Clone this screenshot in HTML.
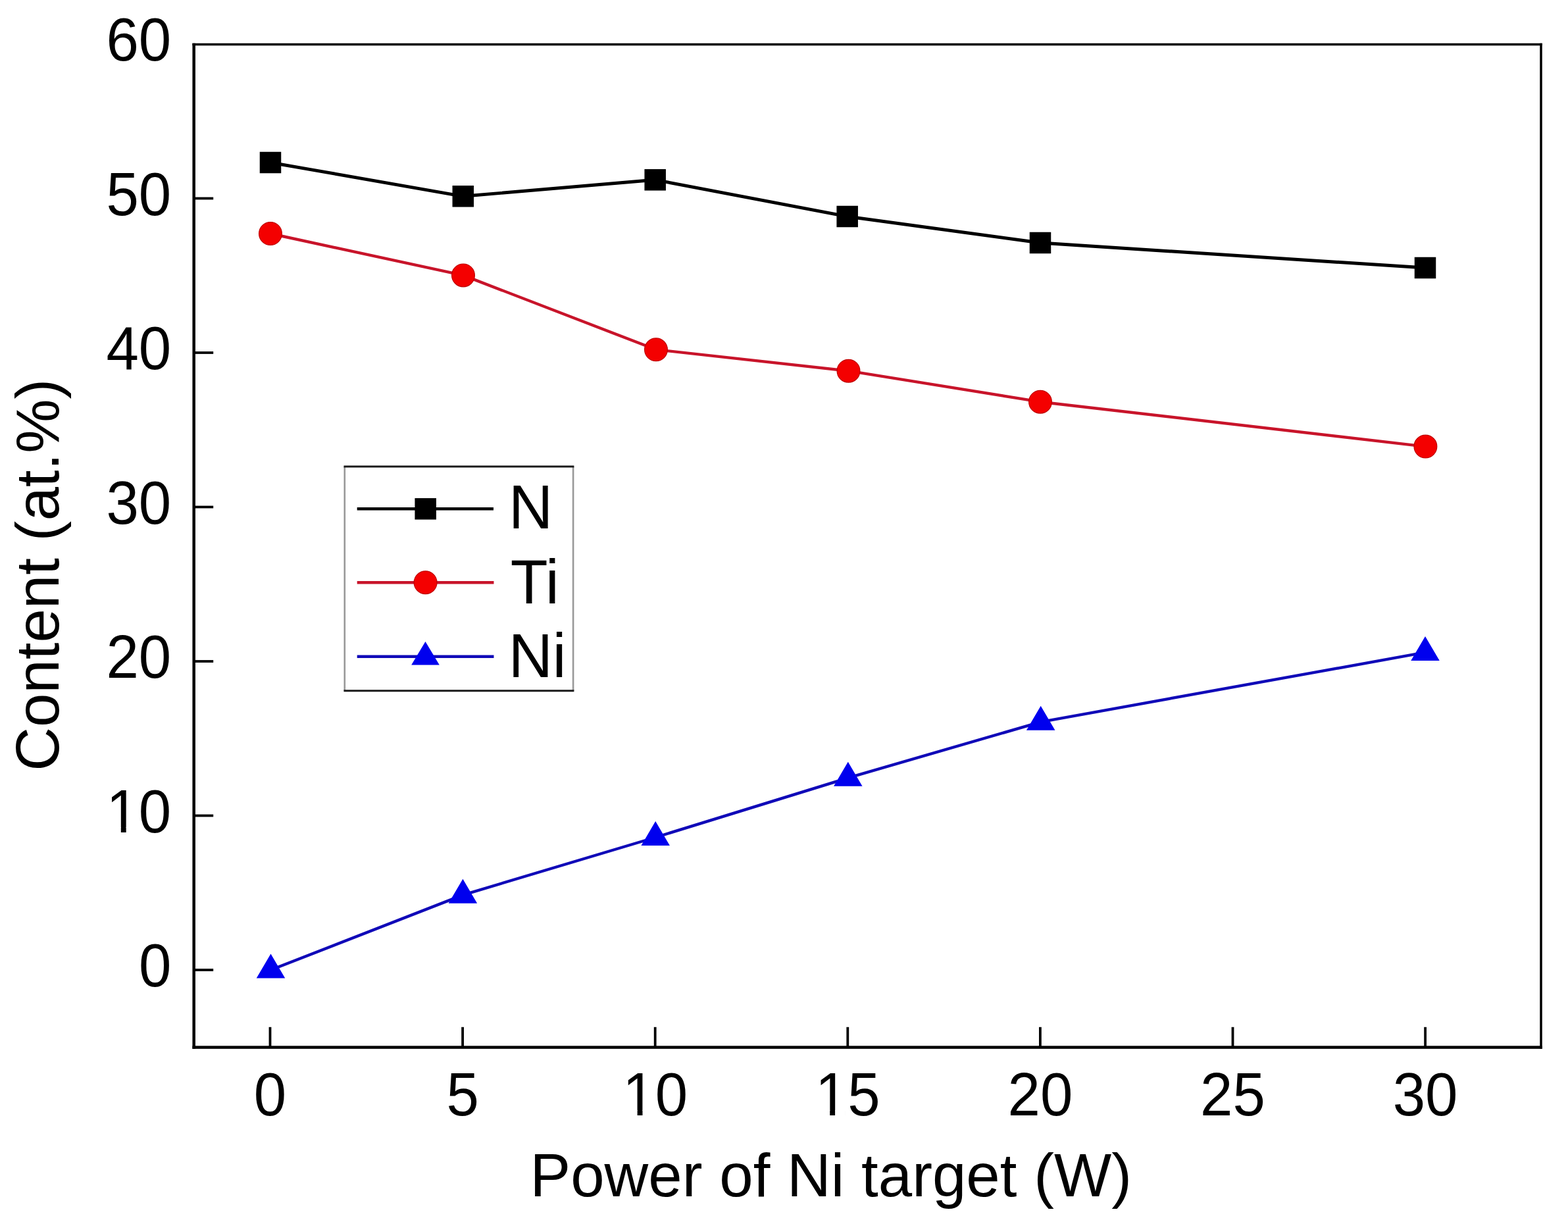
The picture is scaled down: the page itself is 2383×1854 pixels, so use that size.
<!DOCTYPE html>
<html><head><meta charset="utf-8"><title>Content vs Power of Ni target</title>
<style>html,body{margin:0;padding:0;background:#fff;overflow:hidden;}svg{display:block;}</style></head>
<body><svg width="2383" height="1854" viewBox="0 0 2383 1854">
<rect width="2383" height="1854" fill="#fff"/>
<rect x="292.45" y="65.75" width="4.5" height="1528.10" fill="#000"/>
<rect x="292.45" y="1589.35" width="2051.30" height="4.5" fill="#000"/>
<rect x="292.45" y="65.75" width="2051.30" height="3.5" fill="#000"/>
<rect x="2340.25" y="65.75" width="3.5" height="1528.10" fill="#000"/>
<line x1="294.7" y1="1474.00" x2="324.2" y2="1474.00" stroke="#000" stroke-width="3.8"/>
<line x1="294.7" y1="1239.50" x2="324.2" y2="1239.50" stroke="#000" stroke-width="3.8"/>
<line x1="294.7" y1="1005.00" x2="324.2" y2="1005.00" stroke="#000" stroke-width="3.8"/>
<line x1="294.7" y1="770.50" x2="324.2" y2="770.50" stroke="#000" stroke-width="3.8"/>
<line x1="294.7" y1="536.00" x2="324.2" y2="536.00" stroke="#000" stroke-width="3.8"/>
<line x1="294.7" y1="301.50" x2="324.2" y2="301.50" stroke="#000" stroke-width="3.8"/>
<line x1="410.50" y1="1560.8" x2="410.50" y2="1591.6" stroke="#000" stroke-width="3.8"/>
<line x1="703.10" y1="1560.8" x2="703.10" y2="1591.6" stroke="#000" stroke-width="3.8"/>
<line x1="995.70" y1="1560.8" x2="995.70" y2="1591.6" stroke="#000" stroke-width="3.8"/>
<line x1="1288.30" y1="1560.8" x2="1288.30" y2="1591.6" stroke="#000" stroke-width="3.8"/>
<line x1="1580.90" y1="1560.8" x2="1580.90" y2="1591.6" stroke="#000" stroke-width="3.8"/>
<line x1="1873.50" y1="1560.8" x2="1873.50" y2="1591.6" stroke="#000" stroke-width="3.8"/>
<line x1="2166.10" y1="1560.8" x2="2166.10" y2="1591.6" stroke="#000" stroke-width="3.8"/>
<text transform="translate(260.26,1499.00) scale(0.96,1)" text-anchor="end" font-family="'Liberation Sans', Arial, sans-serif" font-size="92.5">0</text>
<text transform="translate(260.26,1264.50) scale(0.96,1)" text-anchor="end" font-family="'Liberation Sans', Arial, sans-serif" font-size="92.5">10</text>
<text transform="translate(260.26,1030.00) scale(0.96,1)" text-anchor="end" font-family="'Liberation Sans', Arial, sans-serif" font-size="92.5">20</text>
<text transform="translate(260.26,795.50) scale(0.96,1)" text-anchor="end" font-family="'Liberation Sans', Arial, sans-serif" font-size="92.5">30</text>
<text transform="translate(260.26,561.00) scale(0.96,1)" text-anchor="end" font-family="'Liberation Sans', Arial, sans-serif" font-size="92.5">40</text>
<text transform="translate(260.26,326.50) scale(0.96,1)" text-anchor="end" font-family="'Liberation Sans', Arial, sans-serif" font-size="92.5">50</text>
<text transform="translate(260.26,92.00) scale(0.96,1)" text-anchor="end" font-family="'Liberation Sans', Arial, sans-serif" font-size="92.5">60</text>
<text transform="translate(410.50,1694.50) scale(0.96,1)" text-anchor="middle" font-family="'Liberation Sans', Arial, sans-serif" font-size="92.5">0</text>
<text transform="translate(703.10,1694.50) scale(0.96,1)" text-anchor="middle" font-family="'Liberation Sans', Arial, sans-serif" font-size="92.5">5</text>
<text transform="translate(995.70,1694.50) scale(0.96,1)" text-anchor="middle" font-family="'Liberation Sans', Arial, sans-serif" font-size="92.5">10</text>
<text transform="translate(1288.30,1694.50) scale(0.96,1)" text-anchor="middle" font-family="'Liberation Sans', Arial, sans-serif" font-size="92.5">15</text>
<text transform="translate(1580.90,1694.50) scale(0.96,1)" text-anchor="middle" font-family="'Liberation Sans', Arial, sans-serif" font-size="92.5">20</text>
<text transform="translate(1873.50,1694.50) scale(0.96,1)" text-anchor="middle" font-family="'Liberation Sans', Arial, sans-serif" font-size="92.5">25</text>
<text transform="translate(2166.10,1694.50) scale(0.96,1)" text-anchor="middle" font-family="'Liberation Sans', Arial, sans-serif" font-size="92.5">30</text>
<rect x="167.56" y="1256.99" width="16.26" height="8.71" fill="#fff"/><rect x="191.67" y="1256.99" width="15.57" height="8.71" fill="#fff"/>
<rect x="952.38" y="1686.99" width="16.26" height="8.71" fill="#fff"/><rect x="976.49" y="1686.99" width="15.57" height="8.71" fill="#fff"/>
<rect x="1244.98" y="1686.99" width="16.26" height="8.71" fill="#fff"/><rect x="1269.09" y="1686.99" width="15.57" height="8.71" fill="#fff"/>
<text transform="translate(805.50,1817.70) scale(0.991,1)" font-family="'Liberation Sans', Arial, sans-serif" font-size="93.3">Power of Ni target (W)</text>
<text transform="translate(89.2,1171.82) rotate(-90) scale(0.992,1)" font-family="'Liberation Sans', Arial, sans-serif" font-size="93.2">Content (at.%)</text>
<polyline points="411.00,247.00 703.80,298.30 995.70,273.30 1287.70,329.00 1581.00,369.00 2166.00,407.00" fill="none" stroke="#000" stroke-width="4.9" stroke-linejoin="round"/>
<polyline points="411.00,355.00 704.00,418.40 997.00,531.30 1289.50,563.70 1581.00,610.70 2166.40,678.60" fill="none" stroke="#c8142a" stroke-width="4.4" stroke-linejoin="round"/>
<polyline points="411.50,1474.00 703.40,1360.10 996.20,1272.50 1288.80,1182.20 1581.70,1097.10 2166.00,991.40" fill="none" stroke="#100ab8" stroke-width="4.4" stroke-linejoin="round"/>
<rect x="394.75" y="230.75" width="32.5" height="32.5" fill="#000"/>
<rect x="687.55" y="282.05" width="32.5" height="32.5" fill="#000"/>
<rect x="979.45" y="257.05" width="32.5" height="32.5" fill="#000"/>
<rect x="1271.45" y="312.75" width="32.5" height="32.5" fill="#000"/>
<rect x="1564.75" y="352.75" width="32.5" height="32.5" fill="#000"/>
<rect x="2149.75" y="390.75" width="32.5" height="32.5" fill="#000"/>
<circle cx="411.00" cy="355.00" r="17.4" fill="#f40000" stroke="#c00000" stroke-width="1.2"/>
<circle cx="704.00" cy="418.40" r="17.4" fill="#f40000" stroke="#c00000" stroke-width="1.2"/>
<circle cx="997.00" cy="531.30" r="17.4" fill="#f40000" stroke="#c00000" stroke-width="1.2"/>
<circle cx="1289.50" cy="563.70" r="17.4" fill="#f40000" stroke="#c00000" stroke-width="1.2"/>
<circle cx="1581.00" cy="610.70" r="17.4" fill="#f40000" stroke="#c00000" stroke-width="1.2"/>
<circle cx="2166.40" cy="678.60" r="17.4" fill="#f40000" stroke="#c00000" stroke-width="1.2"/>
<polygon points="411.50,1449.58 389.75,1486.58 433.25,1486.58" fill="#0000ee"/>
<polygon points="703.40,1335.68 681.65,1372.68 725.15,1372.68" fill="#0000ee"/>
<polygon points="996.20,1248.08 974.45,1285.08 1017.95,1285.08" fill="#0000ee"/>
<polygon points="1288.80,1157.78 1267.05,1194.78 1310.55,1194.78" fill="#0000ee"/>
<polygon points="1581.70,1072.68 1559.95,1109.68 1603.45,1109.68" fill="#0000ee"/>
<polygon points="2166.00,966.98 2144.25,1003.98 2187.75,1003.98" fill="#0000ee"/>
<rect x="523.8" y="709.0" width="347.3" height="340.8" fill="#fff"/>
<line x1="523.8" y1="709.0" x2="523.8" y2="1049.8" stroke="#999" stroke-width="2.6"/>
<line x1="871.1" y1="709.0" x2="871.1" y2="1049.8" stroke="#999" stroke-width="2.6"/>
<line x1="522.5" y1="709.0" x2="872.4" y2="709.0" stroke="#1a1a1a" stroke-width="3"/>
<line x1="522.5" y1="1049.8" x2="872.4" y2="1049.8" stroke="#1a1a1a" stroke-width="3"/>
<line x1="542.7" y1="773.3" x2="750" y2="773.3" stroke="#000" stroke-width="4.6"/>
<line x1="542.7" y1="885.2" x2="750.5" y2="885.2" stroke="#c8142a" stroke-width="4.4"/>
<line x1="542.7" y1="997.8" x2="750.5" y2="997.8" stroke="#100ab8" stroke-width="4.4"/>
<rect x="630.45" y="757.05" width="32.5" height="32.5" fill="#000"/>
<circle cx="646.60" cy="885.20" r="17.4" fill="#f40000" stroke="#c00000" stroke-width="1.2"/>
<polygon points="646.5,974.9 625.2,1010.5 667.8,1010.5" fill="#0000ee"/>
<text transform="translate(773.06,802.60) scale(0.99,1)" font-family="'Liberation Sans', Arial, sans-serif" font-size="94">N</text>
<text transform="translate(775.64,917.00) scale(0.99,1)" font-family="'Liberation Sans', Arial, sans-serif" font-size="94">Ti</text>
<text transform="translate(772.66,1028.90) scale(0.99,1)" font-family="'Liberation Sans', Arial, sans-serif" font-size="94">Ni</text>
</svg></body></html>
